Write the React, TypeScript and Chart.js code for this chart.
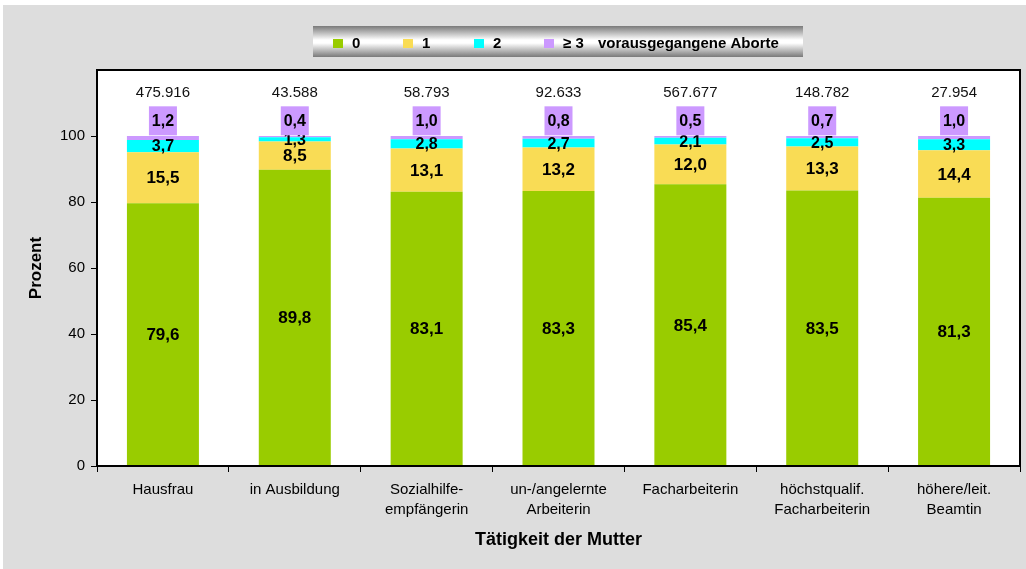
import React, { useEffect, useRef } from "react";
import { Chart, registerables } from "chart.js";

Chart.register(...registerables);

const categories: string[][] = [
  ["Hausfrau"],
  ["in Ausbildung"],
  ["Sozialhilfe-", "empfängerin"],
  ["un-/angelernte", "Arbeiterin"],
  ["Facharbeiterin"],
  ["höchstqualif.", "Facharbeiterin"],
  ["höhere/leit.", "Beamtin"],
];
const seriesLabels = ["0", "1", "2", "≥ 3"];
const legendCaption = "vorausgegangene Aborte";
const values0 = [79.6, 89.8, 83.1, 83.3, 85.4, 83.5, 81.3];
const values1 = [15.5, 8.5, 13.1, 13.2, 12.0, 13.3, 14.4];
const values2 = [3.7, 1.3, 2.8, 2.7, 2.1, 2.5, 3.3];
const values3 = [1.2, 0.4, 1.0, 0.8, 0.5, 0.7, 1.0];
const totals = ["475.916", "43.588", "58.793", "92.633", "567.677", "148.782", "27.954"];
const yTicks = [0, 20, 40, 60, 80, 100];
const colors = ["#99CC00", "#F9DC55", "#00FFFF", "#CC99FF"];

const FONT = "Arial, 'Liberation Sans', sans-serif";
const fmt = (v: number) => v.toFixed(1).replace(".", ",");

const decorPlugin = {
  id: "decor",
  beforeDraw(chart: any) {
    const { ctx, chartArea, width, height } = chart;
    ctx.save();
    ctx.fillStyle = "#ffffff";
    ctx.fillRect(0, 0, width, height);
    ctx.fillStyle = "#DDDDDD";
    ctx.fillRect(3, 5, width - 3, height - 5);
    ctx.fillStyle = "#ffffff";
    ctx.fillRect(chartArea.left, chartArea.top, chartArea.right - chartArea.left, chartArea.bottom - chartArea.top);

    // legend box
    const lx = 313, ly = 26, lw = 490, lh = 31;
    const g = ctx.createLinearGradient(0, ly, 0, ly + lh);
    g.addColorStop(0, "#7a7a7a");
    g.addColorStop(0.45, "#ffffff");
    g.addColorStop(0.55, "#ffffff");
    g.addColorStop(1, "#7a7a7a");
    ctx.fillStyle = g;
    ctx.fillRect(lx, ly, lw, lh);
    const cy = 43.5;
    const markerX = [333, 403, 474, 544];
    ctx.font = `bold 15px ${FONT}`;
    ctx.textBaseline = "middle";
    ctx.textAlign = "left";
    chart.data.datasets.forEach((ds: any, i: number) => {
      ctx.fillStyle = ds.backgroundColor;
      ctx.fillRect(markerX[i], cy - 4.5, 10, 9);
      ctx.fillStyle = "#000";
      ctx.fillText(ds.label, markerX[i] + 19, cy);
    });
    ctx.fillText(legendCaption, 598, cy);
    ctx.restore();
  },
  afterDatasetsDraw(chart: any) {
    const { ctx, chartArea } = chart;
    const yScale = chart.scales.y;
    ctx.save();
    ctx.textAlign = "center";
    ctx.textBaseline = "middle";
    for (let d = 0; d < 3; d++) {
      const meta = chart.getDatasetMeta(d);
      const ds = chart.data.datasets[d];
      ctx.font = `bold ${d < 2 ? 17 : 16}px ${FONT}`;
      ctx.fillStyle = "#000";
      meta.data.forEach((bar: any, i: number) => {
        const yc = (bar.y + bar.base) / 2;
        ctx.fillText(fmt(ds.data[i]), bar.x, yc + 1);
      });
    }
    // >=3 boxes above bar
    const meta3 = chart.getDatasetMeta(3);
    const ds3 = chart.data.datasets[3];
    const boxC = yScale.getPixelForValue(104.6);
    meta3.data.forEach((bar: any, i: number) => {
      ctx.fillStyle = colors[3];
      ctx.fillRect(bar.x - 14, boxC - 14.5, 28, 29);
      ctx.fillStyle = "#000";
      ctx.font = `bold 16px ${FONT}`;
      ctx.fillText(fmt(ds3.data[i]), bar.x, boxC + 1);
    });
    // totals
    const ty = yScale.getPixelForValue(113);
    ctx.font = `15px ${FONT}`;
    ctx.fillStyle = "#111";
    meta3.data.forEach((bar: any, i: number) => {
      ctx.fillText(totals[i], bar.x, ty);
    });
    // plot border
    ctx.strokeStyle = "#000";
    ctx.lineWidth = 2;
    ctx.strokeRect(chartArea.left, chartArea.top, chartArea.right - chartArea.left, chartArea.bottom - chartArea.top);
    ctx.restore();
  },
};

export default function App() {
  const ref = useRef<HTMLCanvasElement | null>(null);
  useEffect(() => {
    if (!ref.current) return;
    const series = [values0, values1, values2, values3];
    const chart = new Chart(ref.current, {
      type: "bar",
      data: {
        labels: categories,
        datasets: series.map((vals, i) => ({
          label: seriesLabels[i],
          data: vals,
          backgroundColor: colors[i],
          borderWidth: 0,
          barPercentage: 0.546,
          categoryPercentage: 1,
        })),
      },
      options: {
        animation: false,
        responsive: false,
        devicePixelRatio: 1,
        layout: { padding: { left: 0, top: 70, right: 6, bottom: 0 } },
        plugins: { legend: { display: false }, tooltip: { enabled: false } },
        scales: {
          x: {
            stacked: true,
            offset: true,
            afterFit: (s: any) => { s.height = 103; },
            grid: { offset: true, drawOnChartArea: false, tickLength: 6, color: "#000", lineWidth: 1 },
            border: { color: "#000", width: 1.5 },
            ticks: { color: "#000", font: { family: FONT, size: 15, lineHeight: 1.33 }, padding: 8, maxRotation: 0, autoSkip: false },
            title: {
              display: true,
              text: "Tätigkeit der Mutter",
              color: "#000",
              font: { family: FONT, size: 18, weight: "bold" },
              padding: { top: 0, bottom: 18 },
            },
          },
          y: {
            stacked: true,
            min: 0,
            max: 120,
            afterFit: (s: any) => { s.width = 97; },
            afterBuildTicks: (s: any) => { s.ticks = yTicks.map((v) => ({ value: v })); },
            grid: { drawOnChartArea: false, tickLength: 6, color: "#000", lineWidth: 1 },
            border: { color: "#000", width: 1.5 },
            ticks: { color: "#000", font: { family: FONT, size: 15 }, padding: 6 },
            title: {
              display: true,
              text: "Prozent",
              color: "#000",
              font: { family: FONT, size: 17, weight: "bold" },
              padding: { top: 26, bottom: 0 },
            },
          },
        },
      },
      plugins: [decorPlugin],
    } as any);
    return () => chart.destroy();
  }, []);
  return (
    <div style={{ position: "fixed", left: 0, top: 0, width: 1026, height: 569 }}>
      <canvas ref={ref} width={1026} height={569} style={{ width: 1026, height: 569, display: "block" }} />
    </div>
  );
}
